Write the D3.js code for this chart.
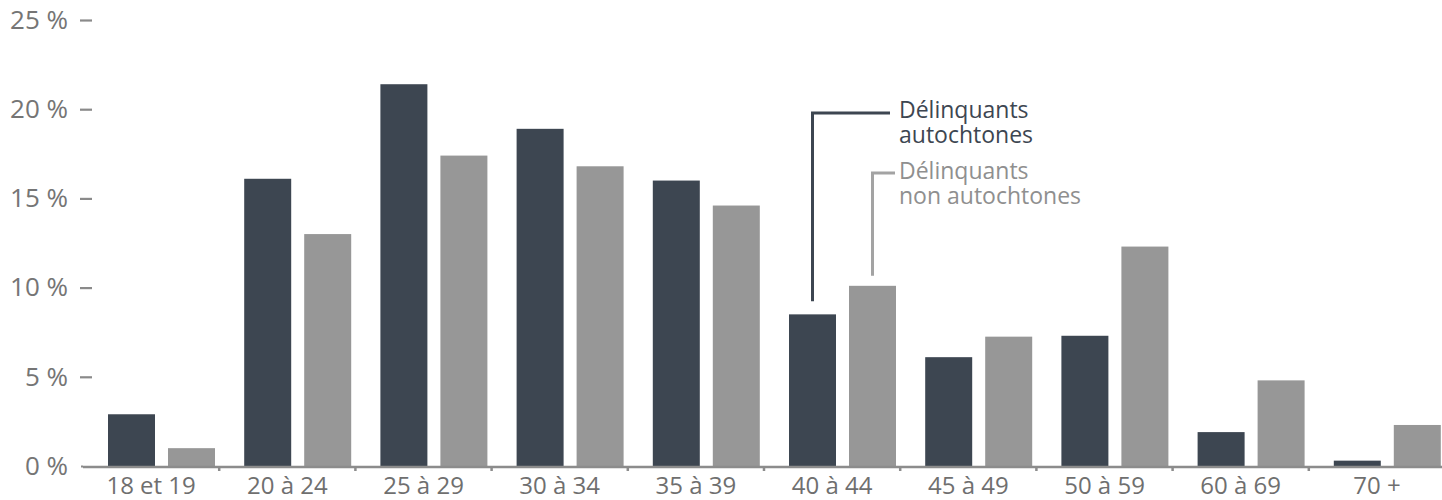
<!DOCTYPE html>
<html lang="fr">
<head>
<meta charset="utf-8">
<script src="https://cdn.jsdelivr.net/npm/d3@7/dist/d3.min.js"></script>
<style>
  html, body { margin: 0; padding: 0; background: #ffffff; }
  svg { display: block; font-family: "Open Sans", "Noto Sans", sans-serif; }
</style>
</head>
<body>
<svg id="chart" width="1442" height="500"></svg>
<script>
// Age groups of offenders
const categories = ["18 et 19", "20 à 24", "25 à 29", "30 à 34", "35 à 39",
                    "40 à 44", "45 à 49", "50 à 59", "60 à 69", "70 +"];
// Share of each age group (%)
const autochtones    = [2.9, 16.1, 21.4, 18.9, 16.0, 8.5, 6.1, 7.3, 1.9, 0.3];
const nonAutochtones = [1.0, 13.0, 17.4, 16.8, 14.6, 10.1, 7.25, 12.3, 4.8, 2.3];
const seriesNames = ["Délinquants autochtones", "Délinquants non autochtones"];
const yTicks = [0, 5, 10, 15, 20, 25];

const colors = { dark: "#3d4651", light: "#979797" };

const svg = d3.select("#chart");

const y = d3.scaleLinear().domain([0, 25]).range([466, 20]);
const x0 = d3.scaleBand().domain(categories).range([83, 1445]).paddingInner(0).paddingOuter(0);
const x1 = d3.scaleBand().domain(seriesNames)
  .range([25, 25 + 107]).paddingInner(13 / 60).paddingOuter(0);

const rows = categories.map((c, i) => ({ cat: c, values: [autochtones[i], nonAutochtones[i]] }));

// Bars
const groups = svg.append("g").selectAll("g").data(rows).join("g")
  .attr("transform", d => `translate(${x0(d.cat)},0)`);
groups.selectAll("rect")
  .data(d => d.values.map((v, k) => ({ key: seriesNames[k], v })))
  .join("rect")
  .attr("x", d => x1(d.key))
  .attr("width", x1.bandwidth())
  .attr("y", d => y(d.v))
  .attr("height", d => y(0) - y(d.v))
  .attr("fill", d => d.key === seriesNames[0] ? colors.dark : colors.light);

// Y axis: labels with short dash ticks, no domain line
const yAxis = d3.axisLeft(y).tickValues(yTicks).tickFormat(d => d + " %")
  .tickSize(12).tickPadding(12);
const gy = svg.append("g").attr("transform", "translate(92,0)").call(yAxis);
gy.select(".domain").remove();
gy.selectAll(".tick line").attr("stroke", "#8a8a8a").attr("stroke-width", 2.2)
  .filter(d => d === 0).attr("x2", -11).attr("x1", -9);
gy.selectAll(".tick text").attr("fill", "#757575").style("font-size", "26px")
  .style("font-family", "'Open Sans', sans-serif");

// X axis: baseline with small separators between groups
const xAxis = d3.axisBottom(x0).tickSize(0).tickPadding(10);
const gx = svg.append("g").attr("transform", `translate(0,${y(0) + 1})`).call(xAxis);
gx.select(".domain").attr("stroke", "#8c8c8c").attr("stroke-width", 2.5)
  .attr("d", `M83,0H1442`);
gx.selectAll(".tick text").attr("fill", "#6f6f6f").style("font-size", "24px")
  .style("font-family", "'Open Sans', sans-serif").attr("dy", "0.7em");
gx.append("g").selectAll("line").data(categories.slice(1)).join("line")
  .attr("x1", d => x0(d)).attr("x2", d => x0(d))
  .attr("y1", 0).attr("y2", 4)
  .attr("stroke", "#8c8c8c").attr("stroke-width", 2.5);

// Callout labels for the two series, anchored on the 40 à 44 group
const anchorCat = "40 à 44";
const darkX = x0(anchorCat) + x1(seriesNames[0]) + x1.bandwidth() / 2;
const lightX = x0(anchorCat) + x1(seriesNames[1]) + x1.bandwidth() / 2;
const darkTop = y(autochtones[categories.indexOf(anchorCat)]);
const lightTop = y(nonAutochtones[categories.indexOf(anchorCat)]);

svg.append("path")
  .attr("d", `M${darkX},${darkTop - 13}V113H890`)
  .attr("fill", "none").attr("stroke", colors.dark).attr("stroke-width", 3);
svg.append("path")
  .attr("d", `M${lightX},${lightTop - 10}V173H895`)
  .attr("fill", "none").attr("stroke", "#a3a3a3").attr("stroke-width", 3);

// Two-line labels, each drawn as one text element
const labels = [
  { lines: ["Délinquants", "autochtones"], y: 118, fill: colors.dark },
  { lines: ["Délinquants", "non autochtones"], y: 179, fill: "#8f8f8f" }
];
const legend = svg.append("g").style("font-size", "23px");
legend.selectAll("text").data(labels).join("text")
  .attr("x", 899).attr("y", d => d.y).attr("fill", d => d.fill)
  .selectAll("tspan").data(d => d.lines).join("tspan")
  .attr("x", 899).attr("dy", (d, i) => i === 0 ? 0 : 24.5)
  .text(d => d);
</script>
</body>
</html>
